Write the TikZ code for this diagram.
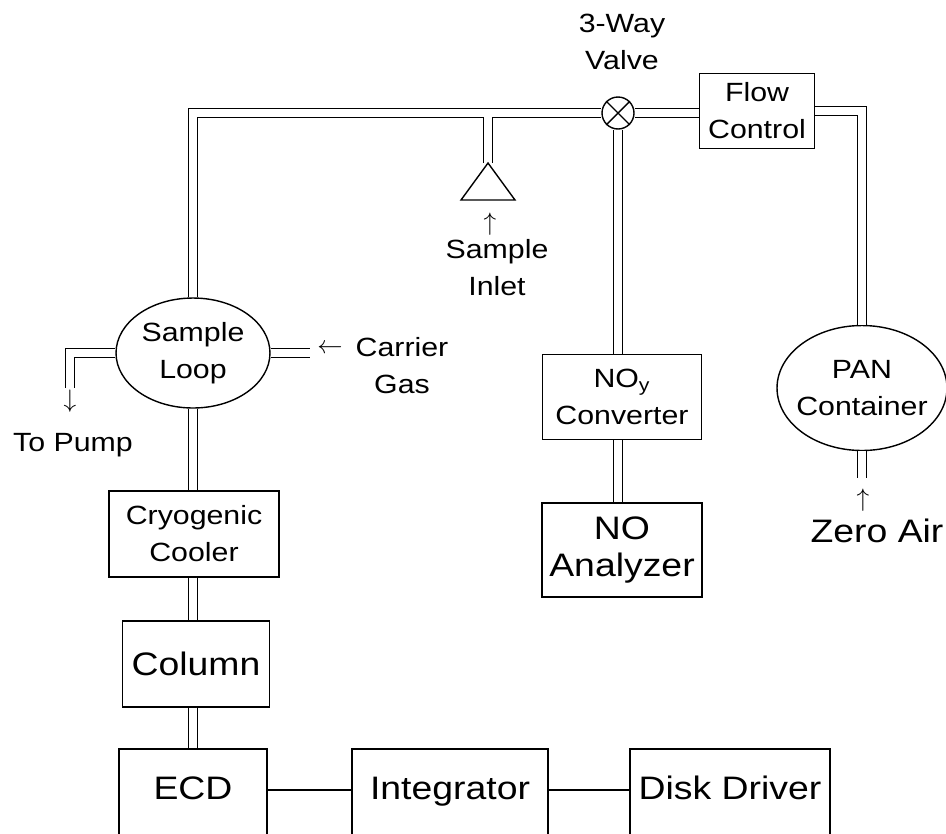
\documentclass[tikz,border=0pt]{standalone}
\usepackage{fontspec}
\setmainfont{Liberation Sans}[FakeStretch=1.15]
\usetikzlibrary{shapes.geometric}

\begin{document}
\begin{tikzpicture}[x=0.02cm, y=-0.02cm,
    txt/.style={align=center, font=\fontsize{15}{21}\selectfont},
    bigtxt/.style={align=center, font=\fontsize{18.5}{21.5}\selectfont},
    box/.style={draw, line width=0.8pt, txt},
    bigbox/.style={draw, line width=0.8pt, bigtxt},
    unit/.style={bigbox, minimum height=1.76cm, text height=1.8ex, text depth=0.5ex},
    tank/.style={draw, ellipse, line width=0.8pt, inner sep=0pt},
    pipe/.style={line width=0.8pt, double, double distance=4.3pt},
    wire/.style={line width=0.8pt}]
  \useasboundingbox (0,0) rectangle (946,833);

  \node[tank, minimum width=3.08cm, minimum height=2.2cm,
        label={[txt]center:Sample\\Loop}] (loop) at (193,353) {};
  \node[box, minimum width=3.4cm, minimum height=1.72cm] (cryo) at (194,534) {Cryogenic\\Cooler};
  \node[bigbox, minimum width=2.94cm, minimum height=1.72cm] (column) at (196,664) {Column};
  \node[unit, minimum width=2.96cm] (ecd) at (193,793) {ECD};
  \node[unit, minimum width=3.92cm] (integ) at (450,793) {Integrator};
  \node[unit, minimum width=4cm] (disk) at (730,793) {Disk Driver};
  \node[draw, circle, line width=0.8pt, minimum size=0.64cm, inner sep=0pt] (valve) at (618,113) {};
  \node[box, minimum width=2.3cm, minimum height=1.5cm] (flow) at (757,111) {Flow\\Control};
  \node[box, minimum width=3.18cm, minimum height=1.7cm] (noy) at (622,397) {NO\textsubscript{y}\\Converter};
  \node[bigbox, minimum width=3.2cm, minimum height=1.88cm] (noa) at (622,550) {NO\\Analyzer};
  \node[tank, minimum width=3.4cm, minimum height=2.5cm,
        label={[txt]center:PAN\\Container}] (pan) at (862,388) {};

  \node[txt] (valvelbl) at (622,42) {3-Way\\Valve};
  \node[txt] (inletarr) at (490,224) {$\uparrow$};
  \node[txt] (inletlbl) at (497,268) {Sample\\Inlet};
  \node[txt] (gasarr) at (330,349) {$\leftarrow$};
  \node[txt] (gaslbl) at (402,366) {Carrier\\Gas};
  \node[txt] (pumparr) at (70,401) {$\downarrow$};
  \node[txt] (pumplbl) at (73,445) {To Pump};
  \node[txt] (airarr) at (863,500) {$\uparrow$};
  \node[bigtxt] (airlbl) at (877,531) {Zero Air};

  \coordinate (inlet) at (488,163);
  \coordinate (pump) at (70,388);
  \coordinate (gas) at (310,353);
  \coordinate (air) at (862,478);

  \draw[pipe] (loop.north) |- (valve.west) (inlet) -- (inlet |- valve.west);
  \draw[wire] (inlet) -- ++(-27,37) -- ++(54,0) -- cycle;
  \draw[wire] (valve.45) -- (valve.225) (valve.135) -- (valve.315);
  \draw[pipe] (valve.east) -- (valve.east -| flow.west);
  \draw[pipe] (flow.east) -| (pan.north);
  \draw[pipe] (pan.south) -- (air);
  \draw[pipe] (valve.south) -- (valve.south |- noy.north);
  \draw[pipe] (valve.south |- noy.south) -- (valve.south |- noa.north);
  \draw[pipe] (loop.west) -| (pump);
  \draw[pipe] (loop.east) -- (gas);
  \draw[pipe] (loop.south) -- (loop.south |- cryo.north);
  \draw[pipe] (loop.south |- cryo.south) -- (loop.south |- column.north);
  \draw[pipe] (loop.south |- column.south) -- (loop.south |- ecd.north);
  \draw[wire] ([yshift=1.7pt]ecd.east) -- ([yshift=1.7pt]integ.west);
  \draw[wire] ([yshift=1.7pt]integ.east) -- ([yshift=1.7pt]disk.west);
\end{tikzpicture}
\end{document}
